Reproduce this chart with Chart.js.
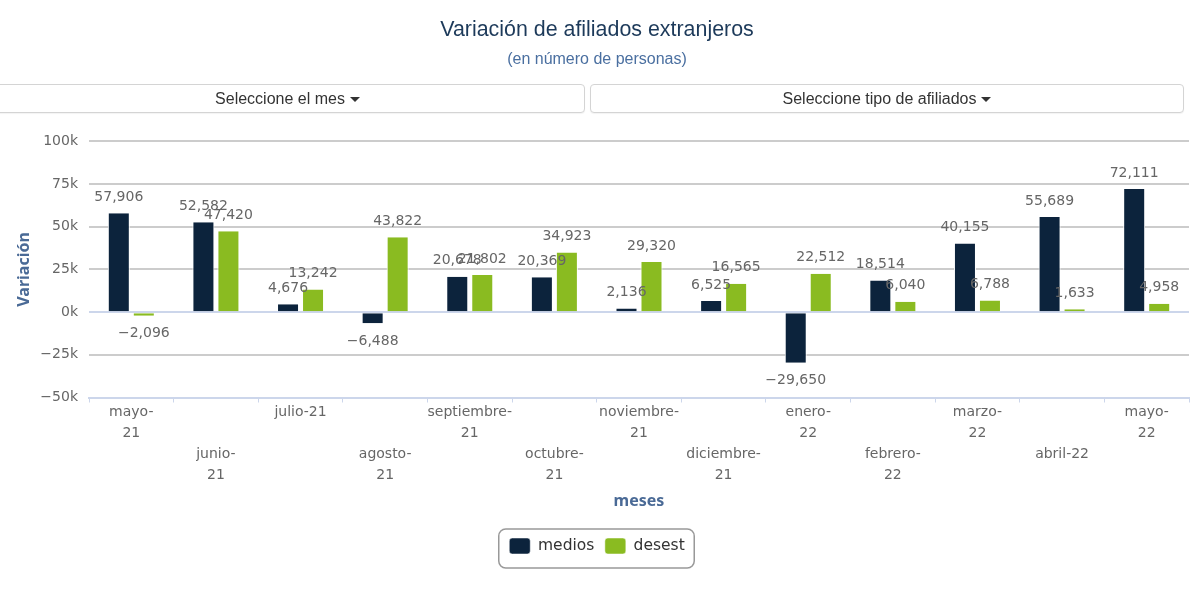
<!DOCTYPE html>
<html lang="es">
<head>
<meta charset="utf-8">
<title>Variación de afiliados extranjeros</title>
<script src="https://cdn.jsdelivr.net/npm/chart.js@4"></script>
<style>
html,body{margin:0;padding:0;width:1200px;height:600px;overflow:hidden;background:#fff}
#c{position:absolute;left:0;top:0}
.btn{position:absolute;top:84px;height:29px;box-sizing:border-box;border:1px solid #d4d4d4;border-radius:4px;background:#fff;color:#333;
font:16px/27px "Liberation Sans",Arial,sans-serif;text-align:center;box-shadow:0 1px 1px rgba(0,0,0,.05)}
.btn i{display:inline-block;width:0;height:0;margin-left:5px;vertical-align:2px;border-left:5px solid transparent;border-right:5px solid transparent;border-top:5px solid #333}
</style>
</head>
<body>
<canvas id="c" width="1194" height="600"></canvas>
<div class="btn" style="left:-10px;width:595px">Seleccione el mes<i></i></div>
<div class="btn" style="left:590px;width:594px">Seleccione tipo de afiliados<i></i></div>
<script>
const chartTitle = "Variación de afiliados extranjeros";
const chartSubtitle = "(en número de personas)";
const categories = ["mayo-21","junio-21","julio-21","agosto-21","septiembre-21","octubre-21","noviembre-21","diciembre-21","enero-22","febrero-22","marzo-22","abril-22","mayo-22"];
const tickLabels = [
  ["mayo-","21"],["","","junio-","21"],["julio-21"],["","","agosto-","21"],
  ["septiembre-","21"],["","","octubre-","21"],["noviembre-","21"],["","","diciembre-","21"],
  ["enero-","22"],["","","febrero-","22"],["marzo-","22"],["","","abril-22"],["mayo-","22"]
];
const medios = [57906,52582,4676,-6488,20678,20369,2136,6525,-29650,18514,40155,55689,72111];
const desest = [-2096,47420,13242,43822,21802,34923,29320,16565,22512,6040,6788,1633,4958];

const FONT = '"DejaVu Sans", sans-serif';
const AXIS_TITLE_FONT = '"Noto Sans", sans-serif';
const minus = s => s.replace("-", "\u2212");

const dataLabels = {
  id: "dataLabels",
  afterDatasetsDraw(chart) {
    const ctx = chart.ctx;
    ctx.save();
    ctx.font = "14px " + FONT;
    ctx.fillStyle = "#666";
    ctx.textAlign = "center";
    ctx.textBaseline = "middle";
    chart.data.datasets.forEach((ds, i) => {
      chart.getDatasetMeta(i).data.forEach((bar, j) => {
        const v = ds.data[j];
        const text = minus(v.toLocaleString("en-US"));
        ctx.fillText(text, bar.x, v >= 0 ? bar.y - 16 : bar.y + 18);
      });
    });
    ctx.restore();
  }
};

const legendBox = {
  id: "legendBox",
  afterDraw(chart) {
    const l = chart.legend, hb = l.legendHitBoxes;
    const first = hb[0], last = hb[hb.length - 1];
    const ctx = chart.ctx;
    ctx.save();
    ctx.strokeStyle = "#999";
    ctx.lineWidth = 1.5;
    ctx.beginPath();
    ctx.roundRect(first.left - 10.5, l.top + 1.5, last.left + last.width - first.left + 20, 39, 7);
    ctx.stroke();
    ctx.restore();
  }
};

new Chart(document.getElementById("c"), {
  type: "bar",
  plugins: [dataLabels, legendBox],
  data: {
    labels: categories,
    datasets: [
      { label: "medios", data: medios, backgroundColor: "#0c233c", borderColor: "#fff", borderWidth: { left: 1, right: 1, top: 0, bottom: 0 }, borderSkipped: false },
      { label: "desest", data: desest, backgroundColor: "#8abb21", borderColor: "#fff", borderWidth: { left: 1, right: 1, top: 0, bottom: 0 }, borderSkipped: false }
    ]
  },
  options: {
    responsive: false,
    animation: false,
    layout: { padding: { left: 5, right: 5, top: 0, bottom: 36 } },
    datasets: { bar: { categoryPercentage: 0.591, barPercentage: 0.88 } },
    plugins: {
      title: { display: true, text: chartTitle, color: "#1d3a5a", font: { family: '"Liberation Sans", Arial, sans-serif', size: 21.4, weight: "normal" }, padding: { top: 17, bottom: 7 } },
      subtitle: { display: true, text: chartSubtitle, color: "#4a6fa0", font: { family: '"Liberation Sans", Arial, sans-serif', size: 16, weight: "normal" }, padding: { top: 0, bottom: 72.5 } },
      legend: {
        position: "bottom",
        labels: { boxWidth: 21, boxHeight: 16, useBorderRadius: true, borderRadius: 3, padding: 10.5, color: "#333", font: { family: FONT, size: 15.5 } }
      },
      tooltip: { enabled: false }
    },
    scales: {
      x: {
        afterFit(s) { s.height = 130; },
        grid: { drawOnChartArea: false, drawTicks: true, tickLength: 5, color: "#ccd6eb", lineWidth: 1 },
        border: { display: true, color: "#ccd6eb", width: 2 },
        ticks: {
          autoSkip: false, maxRotation: 0, minRotation: 0, padding: -1, color: "#666",
          font: { family: FONT, size: 14, lineHeight: 1.5 },
          callback: (v, i) => tickLabels[i]
        },
        title: { display: true, text: "meses", color: "#4a6a96", font: { family: AXIS_TITLE_FONT, size: 16, weight: "bold" }, padding: { top: 0, bottom: 16 } }
      },
      y: {
        min: -50000, max: 100000,
        afterFit(s) { s.width = 84; },
        grid: {
          drawTicks: false, lineWidth: 2,
          color: c => (c.tick.value === 0 || c.tick.value === -50000) ? "#ccd6eb" : "#cccccc"
        },
        border: { display: false },
        ticks: { stepSize: 25000, padding: 11, color: "#666", font: { family: FONT, size: 14 }, callback: v => minus((v / 1000) + "k") },
        title: { display: true, text: "Variación", color: "#4a6a96", font: { family: AXIS_TITLE_FONT, size: 16, weight: "bold" }, padding: { top: 9.5, bottom: 0 } }
      }
    }
  }
});
</script>
</body>
</html>
